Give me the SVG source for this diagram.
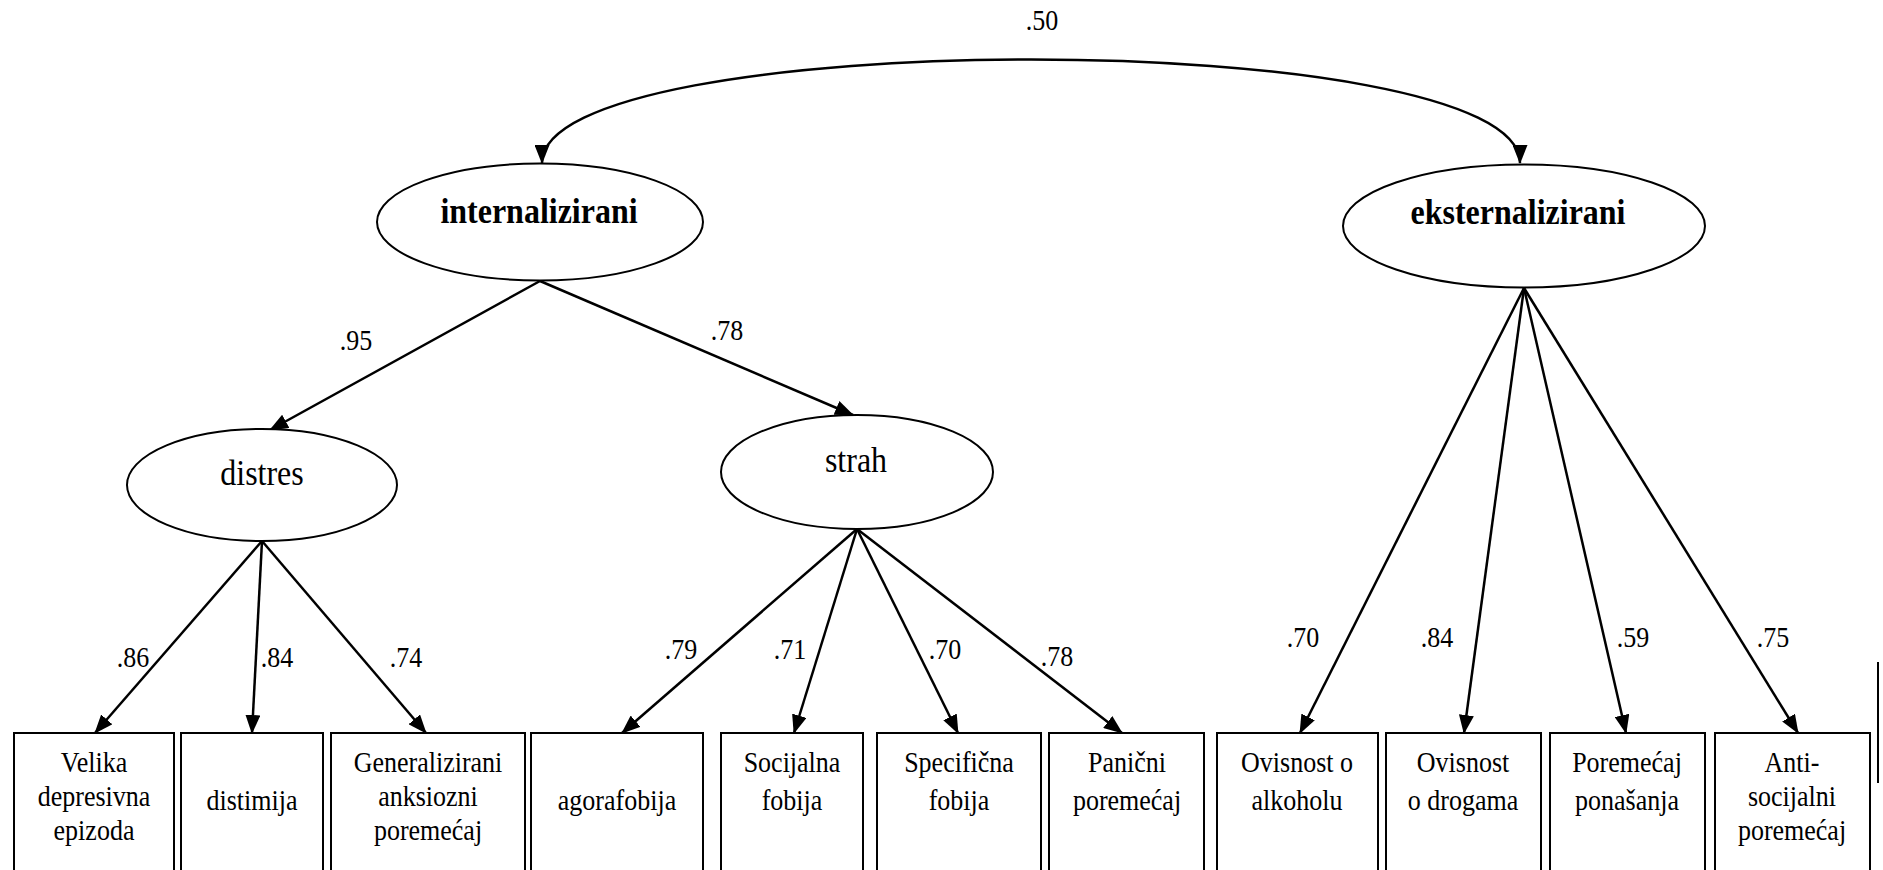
<svg xmlns="http://www.w3.org/2000/svg" width="1883" height="870" viewBox="0 0 1883 870">
<defs>
<style>
.bg{fill:#fff}
.lat{fill:#fff;stroke:#000;stroke-width:2}
.box{fill:#fff;stroke:#000;stroke-width:2}
.edge{fill:none;stroke:#000;stroke-width:2.5}
text{font-family:"Liberation Serif","Times New Roman",serif;fill:#000;text-anchor:middle}
.big{font-size:32px}
.bold{font-weight:bold}
.lbl{font-size:26px}
.bt{font-size:26px}
</style>
<marker id="ah" markerUnits="userSpaceOnUse" markerWidth="19" markerHeight="15" refX="18" refY="7.5" orient="auto-start-reverse">
<path d="M0,0 L19,7.5 L0,15 z" fill="#000"/>
</marker>
</defs>
<rect class="bg" x="0" y="0" width="1883" height="870"/>

<g id="connectors">
<path class="edge" d="M542,163 C542,25 1520,25 1520,163" marker-start="url(#ah)" marker-end="url(#ah)"/>
<line class="edge" x1="540" y1="281" x2="270" y2="430" marker-end="url(#ah)"/>
<line class="edge" x1="540" y1="281" x2="853" y2="415" marker-end="url(#ah)"/>
<line class="edge" x1="262" y1="541" x2="95" y2="733" marker-end="url(#ah)"/>
<line class="edge" x1="262" y1="541" x2="252" y2="733" marker-end="url(#ah)"/>
<line class="edge" x1="262" y1="541" x2="426" y2="733" marker-end="url(#ah)"/>
<line class="edge" x1="857" y1="529" x2="622" y2="733" marker-end="url(#ah)"/>
<line class="edge" x1="857" y1="529" x2="794" y2="733" marker-end="url(#ah)"/>
<line class="edge" x1="857" y1="529" x2="958" y2="733" marker-end="url(#ah)"/>
<line class="edge" x1="857" y1="529" x2="1122" y2="733" marker-end="url(#ah)"/>
<line class="edge" x1="1524" y1="288" x2="1300" y2="733" marker-end="url(#ah)"/>
<line class="edge" x1="1524" y1="288" x2="1464" y2="733" marker-end="url(#ah)"/>
<line class="edge" x1="1524" y1="288" x2="1626" y2="733" marker-end="url(#ah)"/>
<line class="edge" x1="1524" y1="288" x2="1798" y2="733" marker-end="url(#ah)"/>
<text class="lbl" transform="translate(1042,30) scale(1,1.1)">.50</text>
<text class="lbl" transform="translate(356,350) scale(1,1.1)">.95</text>
<text class="lbl" transform="translate(727,340) scale(1,1.1)">.78</text>
<text class="lbl" transform="translate(133,667) scale(1,1.1)">.86</text>
<text class="lbl" transform="translate(277,667) scale(1,1.1)">.84</text>
<text class="lbl" transform="translate(406,667) scale(1,1.1)">.74</text>
<text class="lbl" transform="translate(681,659) scale(1,1.1)">.79</text>
<text class="lbl" transform="translate(790,659) scale(1,1.1)">.71</text>
<text class="lbl" transform="translate(945,659) scale(1,1.1)">.70</text>
<text class="lbl" transform="translate(1057,666) scale(1,1.1)">.78</text>
<text class="lbl" transform="translate(1303,647) scale(1,1.1)">.70</text>
<text class="lbl" transform="translate(1437,647) scale(1,1.1)">.84</text>
<text class="lbl" transform="translate(1633,647) scale(1,1.1)">.59</text>
<text class="lbl" transform="translate(1773,647) scale(1,1.1)">.75</text>
</g>

<g id="internalizirani">
<ellipse class="lat" cx="540" cy="222" rx="163" ry="58.5"/>
<text class="big bold" transform="translate(539,223) scale(1,1.1)">internalizirani</text>
</g>
<g id="eksternalizirani">
<ellipse class="lat" cx="1524" cy="226" rx="181" ry="61.5"/>
<text class="big bold" transform="translate(1518,224) scale(1,1.1)">eksternalizirani</text>
</g>
<g id="distres">
<ellipse class="lat" cx="262" cy="485" rx="135" ry="56"/>
<text class="big" transform="translate(262,485) scale(1,1.1)">distres</text>
</g>
<g id="strah">
<ellipse class="lat" cx="857" cy="472" rx="136" ry="57"/>
<text class="big" transform="translate(856,472) scale(1,1.1)">strah</text>
</g>

<g id="box1">
<rect class="box" x="14" y="733" width="160" height="160"/>
<text class="bt" transform="translate(94,772) scale(1,1.1)">Velika</text>
<text class="bt" transform="translate(94,806) scale(1,1.1)">depresivna</text>
<text class="bt" transform="translate(94,840) scale(1,1.1)">epizoda</text>
</g>
<g id="box2">
<rect class="box" x="181" y="733" width="142" height="160"/>
<text class="bt" transform="translate(252,810) scale(1,1.1)">distimija</text>
</g>
<g id="box3">
<rect class="box" x="331" y="733" width="194" height="160"/>
<text class="bt" transform="translate(428,772) scale(1,1.1)">Generalizirani</text>
<text class="bt" transform="translate(428,806) scale(1,1.1)">anksiozni</text>
<text class="bt" transform="translate(428,840) scale(1,1.1)">poremećaj</text>
</g>
<g id="box4">
<rect class="box" x="531" y="733" width="172" height="160"/>
<text class="bt" transform="translate(617,810) scale(1,1.1)">agorafobija</text>
</g>
<g id="box5">
<rect class="box" x="721" y="733" width="142" height="160"/>
<text class="bt" transform="translate(792,772) scale(1,1.1)">Socijalna</text>
<text class="bt" transform="translate(792,810) scale(1,1.1)">fobija</text>
</g>
<g id="box6">
<rect class="box" x="877" y="733" width="164" height="160"/>
<text class="bt" transform="translate(959,772) scale(1,1.1)">Specifična</text>
<text class="bt" transform="translate(959,810) scale(1,1.1)">fobija</text>
</g>
<g id="box7">
<rect class="box" x="1049" y="733" width="155" height="160"/>
<text class="bt" transform="translate(1127,772) scale(1,1.1)">Panični</text>
<text class="bt" transform="translate(1127,810) scale(1,1.1)">poremećaj</text>
</g>
<g id="box8">
<rect class="box" x="1217" y="733" width="161" height="160"/>
<text class="bt" transform="translate(1297,772) scale(1,1.1)">Ovisnost o</text>
<text class="bt" transform="translate(1297,810) scale(1,1.1)">alkoholu</text>
</g>
<g id="box9">
<rect class="box" x="1386" y="733" width="155" height="160"/>
<text class="bt" transform="translate(1463,772) scale(1,1.1)">Ovisnost</text>
<text class="bt" transform="translate(1463,810) scale(1,1.1)">o drogama</text>
</g>
<g id="box10">
<rect class="box" x="1550" y="733" width="155" height="160"/>
<text class="bt" transform="translate(1627,772) scale(1,1.1)">Poremećaj</text>
<text class="bt" transform="translate(1627,810) scale(1,1.1)">ponašanja</text>
</g>
<g id="box11">
<rect class="box" x="1715" y="733" width="155" height="160"/>
<text class="bt" transform="translate(1792,772) scale(1,1.1)">Anti-</text>
<text class="bt" transform="translate(1792,806) scale(1,1.1)">socijalni</text>
<text class="bt" transform="translate(1792,840) scale(1,1.1)">poremećaj</text>
</g>
<line x1="1878" y1="662" x2="1878" y2="783" stroke="#000" stroke-width="2"/>
</svg>
